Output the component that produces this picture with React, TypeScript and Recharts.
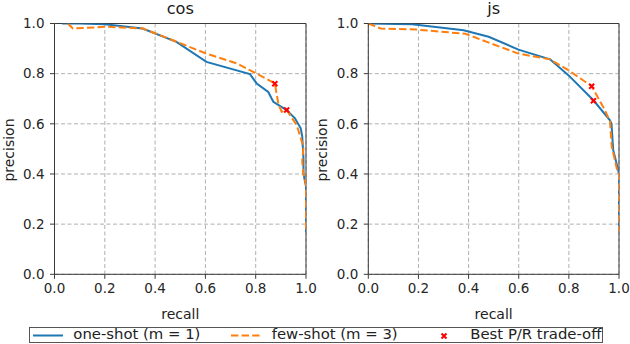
import {
  CartesianGrid,
  ComposedChart,
  Line,
  ReferenceLine,
  Scatter,
  XAxis,
  YAxis,
} from "recharts";

const ticks = [0, 0.2, 0.4, 0.6, 0.8, 1.0];

// cos panel
const cosOneRecall = [0.03, 0.1, 0.2, 0.35, 0.485, 0.604, 0.777, 0.804, 0.85, 0.87, 0.923, 0.956, 0.979, 0.985, 0.99, 0.99, 1.0, 1.0];
const cosOnePrecision = [1.0, 1.0, 0.997, 0.98, 0.927, 0.847, 0.798, 0.761, 0.727, 0.688, 0.655, 0.622, 0.582, 0.55, 0.46, 0.4, 0.35, 0.17];
const cosFewRecall = [0.053, 0.073, 0.206, 0.352, 0.471, 0.604, 0.724, 0.79, 0.876, 0.89, 0.903, 0.923, 0.963, 0.99, 0.985, 0.99, 1.0, 1.0];
const cosFewPrecision = [1.0, 0.98, 0.987, 0.98, 0.933, 0.88, 0.841, 0.807, 0.761, 0.681, 0.648, 0.655, 0.595, 0.508, 0.45, 0.4, 0.36, 0.17];
const cosBestRecall = [0.876, 0.923];
const cosBestPrecision = [0.76, 0.655];

// js panel
const jsOneRecall = [0.0, 0.175, 0.38, 0.48, 0.599, 0.725, 0.798, 0.898, 0.964, 0.97, 0.977, 0.997, 1.0, 1.0];
const jsOnePrecision = [1.0, 0.997, 0.973, 0.947, 0.896, 0.857, 0.794, 0.694, 0.614, 0.6, 0.495, 0.415, 0.4, 0.17];
const jsFewRecall = [0.0, 0.049, 0.19, 0.387, 0.493, 0.599, 0.725, 0.798, 0.891, 0.944, 0.964, 0.971, 0.991, 1.0, 1.0];
const jsFewPrecision = [1.0, 0.98, 0.976, 0.959, 0.919, 0.88, 0.857, 0.814, 0.75, 0.654, 0.61, 0.51, 0.422, 0.4, 0.17];
const jsBestRecall = [0.891, 0.898];
const jsBestPrecision = [0.75, 0.692];

const zip = (r: number[], p: number[]) =>
  r.map((recall, i) => ({ recall, precision: p[i] }));

const fmt = (v: number) => v.toFixed(1);
const FONT = "'DejaVu Sans', sans-serif";
const tickStyle = { fill: "#262626", fontSize: 13.5, fontFamily: FONT };

function Cross(props: any) {
  const { cx, cy } = props;
  const s = 2.5;
  return (
    <path
      d={`M${cx - s},${cy - s}L${cx + s},${cy + s}M${cx - s},${cy + s}L${cx + s},${cy - s}`}
      stroke="#ff0000"
      strokeWidth={2}
    />
  );
}

type Pt = { recall: number; precision: number };

function Panel({
  title,
  one,
  few,
  best,
  left,
  width,
  yWidth,
  right,
}: {
  title: string;
  one: Pt[];
  few: Pt[];
  best: Pt[];
  left: number;
  width: number;
  yWidth: number;
  right: number;
}) {
  const plotLeft = left + yWidth;
  const plotRight = left + width - right;
  const center = (plotLeft + plotRight) / 2;
  return (
    <>
      <div style={{ position: "absolute", left, top: 0, width, height: 300 }}>
        <ComposedChart
          width={width}
          height={300}
          margin={{ top: 23.5, right, bottom: 0, left: 0 }}
        >
          <CartesianGrid stroke="#b0b0b0" strokeDasharray="4 2.5" />
          <ReferenceLine x={1} stroke="#3a3a3a" zIndex={-50} />
          <ReferenceLine y={1} stroke="#3a3a3a" zIndex={-50} />
          <XAxis
            dataKey="recall"
            type="number"
            domain={[0, 1]}
            ticks={ticks}
            tickFormatter={fmt}
            height={25.7}
            tickSize={4.5}
            tickMargin={5}
            stroke="#3a3a3a"
            tick={tickStyle}
            allowDataOverflow
          />
          <YAxis
            dataKey="precision"
            type="number"
            domain={[0, 1]}
            ticks={ticks}
            tickFormatter={fmt}
            width={yWidth}
            tickSize={4.5}
            tickMargin={5.5}
            stroke="#3a3a3a"
            tick={tickStyle}
            allowDataOverflow
          />
          <Line
            data={one}
            dataKey="precision"
            type="linear"
            stroke="#1f77b4"
            strokeWidth={2}
            dot={false}
            activeDot={false}
            isAnimationActive={false}
          />
          <Line
            data={few}
            dataKey="precision"
            type="linear"
            stroke="#ff7f0e"
            strokeWidth={2}
            strokeDasharray="7.4 3.2"
            dot={false}
            activeDot={false}
            isAnimationActive={false}
          />
          <Scatter
            data={best}
            dataKey="precision"
            fill="#ff0000"
            shape={Cross}
            isAnimationActive={false}
          />
        </ComposedChart>
      </div>
      <div
        style={{
          position: "absolute",
          left: center - 60,
          width: 120,
          top: 1.3,
          fontSize: 16.2,
          lineHeight: 1,
          textAlign: "center",
          color: "#1a1a1a",
        }}
      >
        {title}
      </div>
      <div
        style={{
          position: "absolute",
          left: center - 60,
          width: 120,
          top: 306.6,
          fontSize: 14,
          lineHeight: 1,
          textAlign: "center",
          color: "#222",
        }}
      >
        recall
      </div>
    </>
  );
}

function VLabel({ cx, cy }: { cx: number; cy: number }) {
  return (
    <div
      style={{
        position: "absolute",
        left: cx - 50,
        top: cy - 7,
        width: 100,
        height: 14,
        lineHeight: "14px",
        fontSize: 14,
        textAlign: "center",
        color: "#222",
        transform: "rotate(-90deg)",
      }}
    >
      precision
    </div>
  );
}

const legendText = {
  position: "absolute" as const,
  top: -1,
  lineHeight: "15px",
  whiteSpace: "nowrap" as const,
};

export default function App() {
  return (
    <div
      style={{
        position: "absolute",
        left: 0,
        top: 0,
        width: 630,
        height: 344,
        background: "#fff",
        fontFamily: FONT,
        overflow: "hidden",
      }}
    >
      <Panel
        title="cos"
        one={zip(cosOneRecall, cosOnePrecision)}
        few={zip(cosFewRecall, cosFewPrecision)}
        best={zip(cosBestRecall, cosBestPrecision)}
        left={0}
        width={320}
        yWidth={54.5}
        right={14}
      />
      <Panel
        title="js"
        one={zip(jsOneRecall, jsOnePrecision)}
        few={zip(jsFewRecall, jsFewPrecision)}
        best={zip(jsBestRecall, jsBestPrecision)}
        left={314}
        width={316}
        yWidth={54.3}
        right={11}
      />
      <VLabel cx={8.5} cy={150} />
      <VLabel cx={321.5} cy={150} />
      <div
        style={{
          position: "absolute",
          left: 29.3,
          top: 326.7,
          width: 573.4,
          height: 16.6,
          boxSizing: "border-box",
          border: "1px solid #555",
          fontSize: 14.85,
          color: "#222",
        }}
      >
        <svg
          style={{ position: "absolute", left: 1.4, top: 0 }}
          width={32}
          height={15}
        >
          <line x1={1} x2={31} y1={7.5} y2={7.5} stroke="#1f77b4" strokeWidth={2} />
        </svg>
        <span style={{ ...legendText, left: 43 }}>one-shot (m = 1)</span>
        <svg
          style={{ position: "absolute", left: 199.7, top: 0 }}
          width={32}
          height={15}
        >
          <line
            x1={1}
            x2={31}
            y1={7.5}
            y2={7.5}
            stroke="#ff7f0e"
            strokeWidth={2}
            strokeDasharray="7.4 3.2"
          />
        </svg>
        <span style={{ ...legendText, left: 241.4 }}>few-shot (m = 3)</span>
        <svg
          style={{ position: "absolute", left: 405.4, top: 0 }}
          width={16}
          height={15}
        >
          <Cross cx={8} cy={8} />
        </svg>
        <span style={{ ...legendText, left: 440 }}>Best P/R trade-off</span>
      </div>
    </div>
  );
}
